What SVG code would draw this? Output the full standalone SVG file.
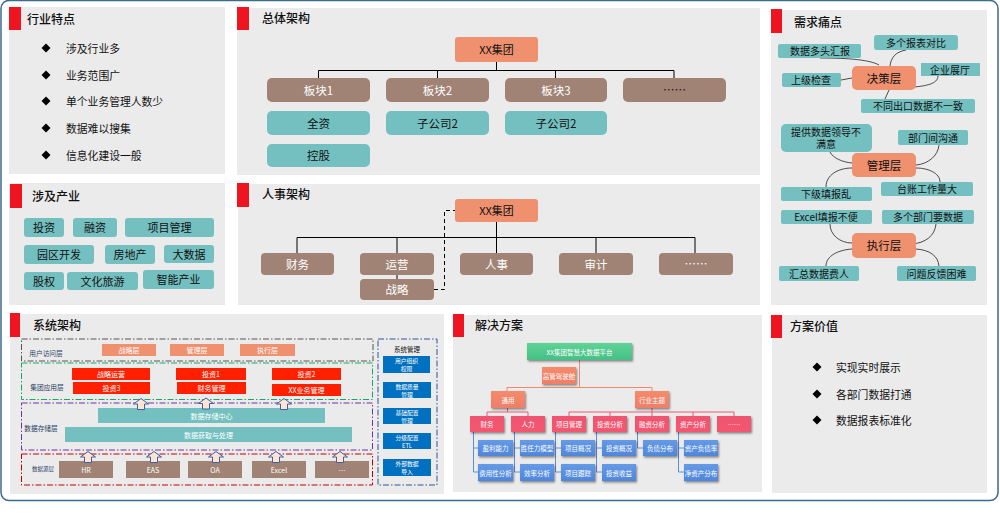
<svg xmlns="http://www.w3.org/2000/svg" width="1000" height="520" viewBox="0 0 1000 520">
<style>
text{font-family:"Noto Sans CJK SC","Liberation Sans",sans-serif;text-anchor:middle;dominant-baseline:central;fill:#111}
.panel{fill:#ebebeb}.tab{fill:#ee1520}
.title{font-size:12px;font-weight:500;text-anchor:start}
.item{font-size:10.8px;text-anchor:start}
.t{fill:#74bfc0}.b{fill:#a08374}.s{fill:#ef906f}
.f11{font-size:11px}.f10{font-size:10px}.f12{font-size:11.5px}.w{fill:#fff}
.ln{fill:none;stroke:#000;stroke-width:1}
.cv{fill:none;stroke:#222;stroke-width:.8}
.red{fill:#ff2000}.blue{fill:#0070c0}
.sm{font-size:7px;fill:#fff}.mm{font-size:5.8px;fill:#fff}.lab{font-size:6.7px;fill:#2a3f66}
.box{fill:none;stroke-width:1;stroke-dasharray:6 2 1.5 2}
.ar{fill:#fde4d3;stroke:#3f5f9e;stroke-width:1}
.g1{fill:url(#gG);filter:url(#sh)}.g2{fill:url(#gS);filter:url(#sh)}.g3{fill:url(#gR);filter:url(#sh)}.g4{fill:url(#gB);filter:url(#sh)}
.sol{font-size:6.5px;fill:#fff}
.o{fill:none;stroke:#ef8a70;stroke-width:1}.p{fill:none;stroke:#ee5a72;stroke-width:1}.u{fill:none;stroke:#5a8ede;stroke-width:1}
</style>
<defs>
<linearGradient id="gG" x1="0" y1="0" x2="0" y2="1"><stop offset="0" stop-color="#5fd397"/><stop offset="1" stop-color="#45bf86"/></linearGradient>
<linearGradient id="gS" x1="0" y1="0" x2="0" y2="1"><stop offset="0" stop-color="#f58a6c"/><stop offset="1" stop-color="#ee7f68"/></linearGradient>
<linearGradient id="gR" x1="0" y1="0" x2="0" y2="1"><stop offset="0" stop-color="#ee5570"/><stop offset="1" stop-color="#f5566f"/></linearGradient>
<linearGradient id="gB" x1="0" y1="0" x2="0" y2="1"><stop offset="0" stop-color="#659ae6"/><stop offset="1" stop-color="#4f86da"/></linearGradient>
<filter id="sh" x="-20%" y="-20%" width="140%" height="150%"><feDropShadow dx="1" dy="1.5" stdDeviation="1" flood-color="#000" flood-opacity=".45"/></filter>
<path id="d" d="M0 -4.500L4.500 0L0 4.500L-4.500 0Z" fill="#000"/>
<path id="up" d="M-3.500 5.500V0H-7.500L0 -5.500L7.500 0H3.500V5.500Z" class="ar"/>
</defs>
<rect width="1000" height="520" fill="#fff"/>
<rect id="frame" x="1" y="0.5" width="997" height="500" rx="8" fill="#fff" stroke="#3d6b8a" stroke-width="1.5"/>

<g id="panel-features">
<rect class="panel" x="9" y="7" width="216" height="167"/><rect class="tab" x="9" y="7" width="12" height="23"/>
<text class="title" x="27" y="18">行业特点</text>
<use href="#d" x="46" y="48"/><text class="item" x="66" y="47.500">涉及行业多</text>
<use href="#d" x="46" y="75"/><text class="item" x="66" y="74.500">业务范围广</text>
<use href="#d" x="46" y="101"/><text class="item" x="66" y="100.500">单个业务管理人数少</text>
<use href="#d" x="46" y="128"/><text class="item" x="66" y="127.500">数据难以搜集</text>
<use href="#d" x="46" y="155"/><text class="item" x="66" y="154.500">信息化建设一般</text>
</g>

<g id="panel-industries">
<rect class="panel" x="9" y="183" width="216" height="122"/><rect class="tab" x="10" y="184" width="12" height="24"/>
<text class="title" x="32" y="195.500">涉及产业</text>
<g id="tag-1"><rect class="t" x="24" y="218" width="40" height="19" rx="3"/><text class="f11" x="44" y="227">投资</text></g>
<g id="tag-2"><rect class="t" x="73" y="218" width="44" height="19" rx="3"/><text class="f11" x="95" y="227">融资</text></g>
<g id="tag-3"><rect class="t" x="125" y="218" width="89" height="19" rx="3"/><text class="f11" x="169.500" y="227">项目管理</text></g>
<g id="tag-4"><rect class="t" x="24" y="245" width="70" height="19" rx="3"/><text class="f11" x="59" y="254">园区开发</text></g>
<g id="tag-5"><rect class="t" x="105" y="245" width="50" height="19" rx="3"/><text class="f11" x="130" y="254">房地产</text></g>
<g id="tag-6"><rect class="t" x="164" y="245" width="50" height="18" rx="3"/><text class="f11" x="189" y="254">大数据</text></g>
<g id="tag-7"><rect class="t" x="24" y="272" width="40" height="18" rx="3"/><text class="f11" x="44" y="280.500">股权</text></g>
<g id="tag-8"><rect class="t" x="67" y="272" width="71" height="18" rx="3"/><text class="f11" x="102.500" y="280.500">文化旅游</text></g>
<g id="tag-9"><rect class="t" x="143" y="270" width="71" height="19" rx="3"/><text class="f11" x="178.500" y="279">智能产业</text></g>
</g>

<g id="panel-overall">
<rect class="panel" x="237" y="8" width="523" height="167"/><rect class="tab" x="237" y="7" width="12" height="23"/>
<text class="title" x="262" y="17.500">总体架构</text>
<g class="connectors">
<path class="ln" d="M496.500 62V70.500M318.500 78V70.500H674V78M437.500 70.500V78M555.500 70.500V78"/>
</g>
<g id="o-root"><rect class="s" x="455" y="37" width="83" height="25" rx="3"/><text class="f11" x="496.500" y="49">XX集团</text></g>
<g id="o-b1"><rect class="b" x="267" y="78" width="103" height="24" rx="5"/><text class="f12 w" x="318.500" y="89.500">板块1</text></g>
<g id="o-b2"><rect class="b" x="386" y="78" width="103" height="24" rx="5"/><text class="f12 w" x="437.500" y="89.500">板块2</text></g>
<g id="o-b3"><rect class="b" x="505" y="78" width="102" height="24" rx="5"/><text class="f12 w" x="556" y="89.500">板块3</text></g>
<g id="o-b4"><rect class="b" x="623" y="78" width="103" height="24" rx="5"/><text class="f12" x="674.500" y="88.500">……</text></g>
<g id="o-c1"><rect class="t" x="267" y="111" width="103" height="24" rx="5"/><text class="f12" x="318.500" y="122.500">全资</text></g>
<g id="o-c2"><rect class="t" x="386" y="111" width="103" height="24" rx="5"/><text class="f12" x="437.500" y="122.500">子公司2</text></g>
<g id="o-c3"><rect class="t" x="505" y="111" width="102" height="24" rx="5"/><text class="f12" x="556" y="122.500">子公司2</text></g>
<g id="o-c4"><rect class="t" x="267" y="144" width="103" height="23" rx="5"/><text class="f12" x="318.500" y="155">控股</text></g>
</g>

<g id="panel-hr">
<rect class="panel" x="238" y="184" width="522" height="121"/><rect class="tab" x="237" y="183" width="12" height="24"/>
<text class="title" x="262" y="193.500">人事架构</text>
<g class="connectors">
<path class="ln" d="M496.500 222V253M297 253V237.500H695V253M397 237.500V253M596 237.500V253M397 275V279"/>
<path class="ln" stroke-dasharray="4 3" d="M434 289.500H444.500V210.500H455"/>
</g>
<g id="h-root"><rect class="s" x="455" y="199" width="83" height="23" rx="3"/><text class="f11" x="496.500" y="210">XX集团</text></g>
<g id="h-1"><rect class="b" x="261" y="253" width="73" height="22" rx="4"/><text class="f12 w" x="297.500" y="263.500">财务</text></g>
<g id="h-2"><rect class="b" x="360" y="253" width="74" height="22" rx="4"/><text class="f12 w" x="397" y="263.500">运营</text></g>
<g id="h-3"><rect class="b" x="460" y="253" width="73" height="22" rx="4"/><text class="f12 w" x="496.500" y="263.500">人事</text></g>
<g id="h-4"><rect class="b" x="559" y="253" width="74" height="22" rx="4"/><text class="f12 w" x="596" y="263.500">审计</text></g>
<g id="h-5"><rect class="b" x="659" y="253" width="74" height="22" rx="4"/><text class="f12 w" x="696" y="262.500">……</text></g>
<g id="h-6"><rect class="b" x="360" y="279" width="74" height="21" rx="4"/><text class="f12 w" x="397" y="289">战略</text></g>
</g>

<g id="panel-pain">
<rect class="panel" x="771" y="10" width="216" height="295"/><rect class="tab" x="771" y="9" width="11" height="24"/>
<text class="title" x="794" y="21">需求痛点</text>
<g class="connectors">
<path class="cv" d="M820 58C850 58 870 60 879 65M906 50C895 52 891 58 890 66M938 76C938 84 925 86 914 87M841 80L852 78M889 90L885 99M830 152C833 158 842 162 852 163M939 145C938 156 928 164 916 165M826 187C826 175 838 168 852 168M940 182C940 173 928 168 916 168M830 224C830 235 840 243 852 243M936 224C935 236 925 243 912 244M826 266C826 256 838 250 852 249M939 266C938 256 930 250 916 249"/>
</g>
<g id="n-decide"><rect class="s" x="852" y="66" width="64" height="24" rx="5"/><text class="f12" x="884" y="77.500">决策层</text></g>
<g id="n-manage"><rect class="s" x="852" y="153" width="64" height="24" rx="5"/><text class="f12" x="884" y="164.500">管理层</text></g>
<g id="n-exec"><rect class="s" x="852" y="233" width="64" height="25" rx="5"/><text class="f12" x="884" y="245">执行层</text></g>
<g id="p-1"><rect class="t" x="778" y="44" width="83" height="14" rx="2"/><text class="f10" x="820" y="50.500">数据多头汇报</text></g>
<g id="p-2"><rect class="t" x="874" y="35" width="84" height="15" rx="3"/><text class="f10" x="916" y="42">多个报表对比</text></g>
<g id="p-3"><rect class="t" x="921" y="63" width="59" height="13"/><text class="f10" x="950" y="69">企业展厅</text></g>
<g id="p-4"><rect class="t" x="782" y="73" width="59" height="14" rx="2"/><text class="f10" x="811" y="79.500">上级检查</text></g>
<g id="p-5"><rect class="t" x="861" y="99" width="114" height="14" rx="2"/><text class="f10" x="918" y="105.500">不同出口数据不一致</text></g>
<g id="p-6"><rect class="t" x="781" y="124" width="91" height="28" rx="5"/><text class="f10" x="826" y="131">提供数据领导不</text><text class="f10" x="826" y="143.500">满意</text></g>
<g id="p-7"><rect class="t" x="898" y="130" width="70" height="15" rx="2"/><text class="f10" x="933" y="137">部门间沟通</text></g>
<g id="p-8"><rect class="t" x="781" y="187" width="91" height="14" rx="2"/><text class="f10" x="826" y="193.500">下级填报乱</text></g>
<g id="p-9"><rect class="t" x="881" y="182" width="92" height="14" rx="2"/><text class="f10" x="927" y="188.500">台账工作量大</text></g>
<g id="p-10"><rect class="t" x="781" y="210" width="91" height="14" rx="2"/><text class="f10" x="826" y="216.500">Excel填报不便</text></g>
<g id="p-11"><rect class="t" x="882" y="210" width="92" height="14" rx="2"/><text class="f10" x="928" y="216.500">多个部门要数据</text></g>
<g id="p-12"><rect class="t" x="779" y="266" width="80" height="15" rx="2"/><text class="f10" x="819" y="273">汇总数据费人</text></g>
<g id="p-13"><rect class="t" x="897" y="266" width="79" height="15" rx="2"/><text class="f10" x="936.500" y="273">问题反馈困难</text></g>
</g>

<g id="panel-system">
<rect class="panel" x="10" y="314" width="434" height="180"/><rect class="tab" x="10" y="313" width="10" height="24"/>
<text class="title" x="33" y="324.500">系统架构</text>
<rect class="box" x="21.500" y="339" width="351.500" height="22" stroke="#555"/>
<rect class="box" x="21.500" y="363" width="351" height="36.500" stroke="#17a868"/>
<rect class="box" x="21.500" y="403" width="351" height="47" stroke="#7030a0"/>
<rect class="box" x="21.500" y="454" width="351" height="31" stroke="#c00000"/>
<rect class="box" x="378" y="339" width="59" height="146" stroke="#2f5597"/>
<text class="lab" x="46" y="352.500">用户访问层</text>
<text class="lab" x="47" y="386.500">集团应用层</text>
<text class="lab" x="41" y="427.500">数据存储层</text>
<text class="lab" x="43" y="468.500" style="font-size:5.5px">数据源层</text>
<text x="407" y="349" style="font-size:6.500px">系统管理</text>
<g id="s-u1"><rect class="s" x="102" y="344" width="54" height="12"/><text class="sm" x="129" y="350">战略层</text></g>
<g id="s-u2"><rect class="s" x="170" y="344" width="54" height="12"/><text class="sm" x="197" y="350">管理层</text></g>
<g id="s-u3"><rect class="s" x="240" y="344" width="55" height="12"/><text class="sm" x="267.500" y="350">执行层</text></g>
<g id="s-a1"><rect class="red" x="72" y="368" width="78" height="12"/><text class="sm" x="111" y="374">战略运营</text></g>
<g id="s-a2"><rect class="red" x="176" y="368" width="70" height="12"/><text class="sm" x="211" y="374">投资1</text></g>
<g id="s-a3"><rect class="red" x="272" y="368" width="69" height="12"/><text class="sm" x="306.500" y="374">投资2</text></g>
<g id="s-a4"><rect class="red" x="73" y="382" width="77" height="12"/><text class="sm" x="111.500" y="388">投资3</text></g>
<g id="s-a5"><rect class="red" x="177" y="382" width="69" height="12"/><text class="sm" x="211.500" y="388">财务管理</text></g>
<g id="s-a6"><rect class="red" x="272" y="384" width="69" height="12"/><text class="sm" x="306.500" y="390">XX业务管理</text></g>
<g id="s-d1"><rect class="t" x="98" y="408" width="227" height="15"/><text class="sm" x="211.500" y="415.500">数据存储中心</text></g>
<g id="s-d2"><rect class="t" x="65" y="427" width="287" height="15"/><text class="sm" x="208.500" y="434.500">数据获取与处理</text></g>
<g id="s-r1"><rect class="b" x="59" y="461" width="54" height="17"/><text class="sm" x="86" y="469.500">HR</text></g>
<g id="s-r2"><rect class="b" x="126" y="461" width="54" height="17"/><text class="sm" x="153" y="469.500">EAS</text></g>
<g id="s-r3"><rect class="b" x="188" y="461" width="54" height="17"/><text class="sm" x="215" y="469.500">OA</text></g>
<g id="s-r4"><rect class="b" x="252" y="461" width="54" height="17"/><text class="sm" x="279" y="469.500">Excel</text></g>
<g id="s-r5"><rect class="b" x="315" y="461" width="54" height="17"/><text class="sm" x="342" y="469.500">…</text></g>
<g class="connectors">
<use href="#up" x="141" y="404"/><use href="#up" x="206" y="403.500"/><use href="#up" x="284" y="404"/>
<use href="#up" x="88" y="457"/><use href="#up" x="154" y="457"/><use href="#up" x="216" y="457"/><use href="#up" x="276" y="457"/><use href="#up" x="340" y="457"/>
</g>
<g id="s-m1"><rect class="blue" x="383" y="356" width="47" height="17"/><text class="mm" x="406.500" y="360.500">用户组织</text><text class="mm" x="406.500" y="368.500">权限</text></g>
<g id="s-m2"><rect class="blue" x="383" y="382" width="48" height="16"/><text class="mm" x="407" y="386">数据质量</text><text class="mm" x="407" y="394">管理</text></g>
<g id="s-m3"><rect class="blue" x="383" y="408" width="48" height="16"/><text class="mm" x="407" y="412">基础配置</text><text class="mm" x="407" y="420">管理</text></g>
<g id="s-m4"><rect class="blue" x="383" y="433" width="48" height="16"/><text class="mm" x="407" y="437">分级配置</text><text class="mm" x="407" y="445">ETL</text></g>
<g id="s-m5"><rect class="blue" x="383" y="459" width="48" height="17"/><text class="mm" x="407" y="463.500">外部数据</text><text class="mm" x="407" y="471.500">导入</text></g>
</g>

<g id="panel-solution">
<rect class="panel" x="453" y="315" width="309" height="177"/><rect class="tab" x="453" y="314" width="11" height="23"/>
<text class="title" x="475" y="324.500">解决方案</text>
<g class="connectors">
<path class="o" d="M579.500 360V387.500M507 391V387.500H652V391"/>
<path class="p" d="M507.500 408V412M487 416V412H528V416M652 408V412M569 416V412H734V416M610 412V416M652 412V416M693 412V416"/>
<path class="u" d="M473.500 432V472H478M473.500 448H478M514.500 432V472H520M514.500 448H520M555.500 432V472H561M555.500 448H561M596.500 432V472H602M596.500 448H602M637.500 432V448H643M678.500 432V472H684M678.500 448H684"/>
</g>
<g id="v-top"><rect class="g1" x="527" y="343" width="105" height="17"/><text class="sol" x="579.500" y="351.500">XX集团智慧大数据平台</text></g>
<g id="v-hq"><rect class="g2" x="542" y="367" width="34" height="17"/><text class="sol" x="559" y="375.500">高管驾驶舱</text></g>
<g id="v-gen"><rect class="g2" x="491" y="391" width="34" height="17"/><text class="sol" x="508" y="399.500">通用</text></g>
<g id="v-ind"><rect class="g2" x="635" y="391" width="34" height="17"/><text class="sol" x="652" y="399.500">行业主题</text></g>
<g id="v-r1"><rect class="g3" x="470" y="416" width="34" height="16"/><text class="sol" x="487" y="424">财务</text></g>
<g id="v-r2"><rect class="g3" x="511" y="416" width="34" height="16"/><text class="sol" x="528" y="424">人力</text></g>
<g id="v-r3"><rect class="g3" x="552" y="416" width="34" height="16"/><text class="sol" x="569" y="424">项目管理</text></g>
<g id="v-r4"><rect class="g3" x="593" y="416" width="34" height="16"/><text class="sol" x="610" y="424">投资分析</text></g>
<g id="v-r5"><rect class="g3" x="635" y="416" width="34" height="16"/><text class="sol" x="652" y="424">融资分析</text></g>
<g id="v-r6"><rect class="g3" x="676" y="416" width="34" height="16"/><text class="sol" x="693" y="424">资产分析</text></g>
<g id="v-r7"><rect class="g3" x="717" y="416" width="34" height="16"/><text class="sol" x="734" y="424">……</text></g>
<g id="v-b1"><rect class="g4" x="478" y="440" width="35" height="16"/><text class="sol" x="495.500" y="448">盈利能力</text></g>
<g id="v-b2"><rect class="g4" x="478" y="464" width="35" height="17"/><text class="sol" x="495.500" y="472.500">费用性分析</text></g>
<g id="v-b3"><rect class="g4" x="520" y="440" width="34" height="16"/><text class="sol" x="537" y="448">胜任力模型</text></g>
<g id="v-b4"><rect class="g4" x="520" y="464" width="34" height="17"/><text class="sol" x="537" y="472.500">效率分析</text></g>
<g id="v-b5"><rect class="g4" x="561" y="440" width="34" height="16"/><text class="sol" x="578" y="448">项目概况</text></g>
<g id="v-b6"><rect class="g4" x="561" y="464" width="34" height="17"/><text class="sol" x="578" y="472.500">项目跟踪</text></g>
<g id="v-b7"><rect class="g4" x="602" y="440" width="34" height="16"/><text class="sol" x="619" y="448">投资概况</text></g>
<g id="v-b8"><rect class="g4" x="602" y="464" width="34" height="17"/><text class="sol" x="619" y="472.500">投资收益</text></g>
<g id="v-b9"><rect class="g4" x="643" y="440" width="34" height="16"/><text class="sol" x="660" y="448">负债分布</text></g>
<g id="v-b10"><rect class="g4" x="684" y="440" width="34" height="16"/><text class="sol" x="701" y="448">资产负债率</text></g>
<g id="v-b11"><rect class="g4" x="684" y="464" width="34" height="17"/><text class="sol" x="701" y="472.500">净资产分布</text></g>
</g>

<g id="panel-value">
<rect class="panel" x="772" y="315" width="215" height="178"/><rect class="tab" x="771" y="315" width="11" height="23"/>
<text class="title" x="790" y="325.500">方案价值</text>
<use href="#d" x="817" y="367"/><text class="item" x="836" y="366.500">实现实时展示</text>
<use href="#d" x="817" y="394"/><text class="item" x="836" y="393.500">各部门数据打通</text>
<use href="#d" x="817" y="420"/><text class="item" x="836" y="419.500">数据报表标准化</text>
</g>
</svg>
